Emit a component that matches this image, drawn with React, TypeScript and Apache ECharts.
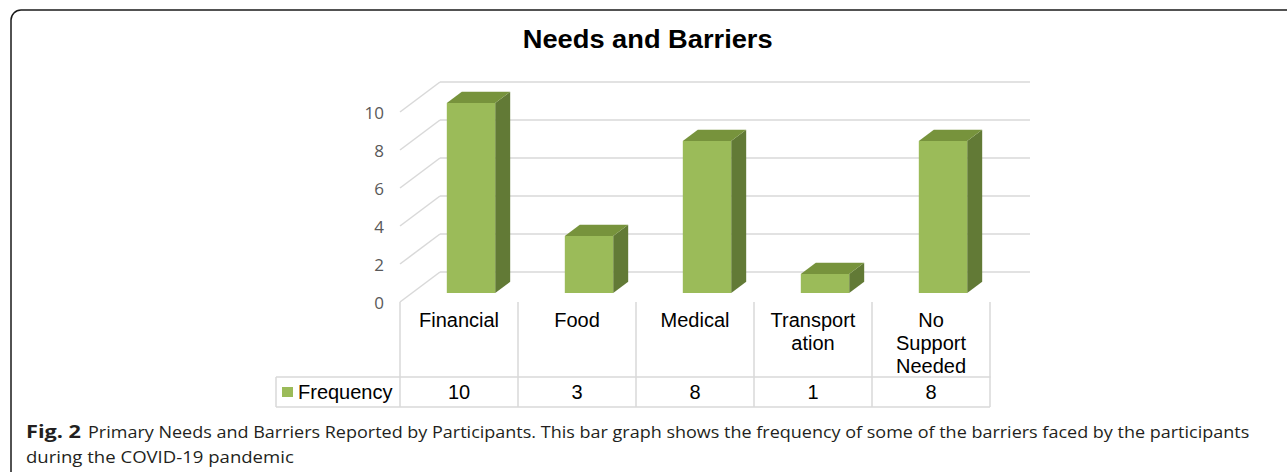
import React, { useEffect, useRef } from "react";
import * as echarts from "echarts";

// ---- data ----
const TITLE = "Needs and Barriers";
const CATEGORIES = ["Financial", "Food", "Medical", "Transport\nation", "No\nSupport\nNeeded"];
const FREQUENCY = [10, 3, 8, 1, 8];
const SERIES_NAME = "Frequency";
const Y_TICKS = [0, 2, 4, 6, 8, 10];
const Y_MIN = 0;
const Y_MAX = 10;
const Y_INTERVAL = 2;
const CAPTION_LABEL = "Fig. 2";
const CAPTION_LINE1 =
  "Primary Needs and Barriers Reported by Participants. This bar graph shows the frequency of some of the barriers faced by the participants";
const CAPTION_LINE2 = "during the COVID-19 pandemic";

// ---- layout / style ----
const W = 1287;
const H = 472;
const GRID_LEFT = 400;
const GRID_TOP = 112;
const GRID_W = 590;
const GRID_H = 190;
const DX = 40; // wall depth
const DY = -30;
const BAR_POS = 0.3; // front face depth fraction
const BAR_DEPTH = 0.375; // bar thickness fraction
const BAR_RATIO = 0.41;
const GRID_COLOR = "#D9D9D9";
const FRONT = "#9BBB59";
const TOP = "#77933C";
const SIDE = "#627A36";
const ARIAL = "Liberation Sans";
const CAPTION_FONT = "Open Sans";
const CAPTION_SIZE = 17;

function fit(text: string, font: string, target: number): number {
  const c = document.createElement("canvas").getContext("2d");
  if (!c) return 1;
  c.font = font;
  const w = c.measureText(text).width;
  return w > 0 ? target / w : 1;
}

export default function App() {
  const ref = useRef<HTMLDivElement>(null);
  useEffect(() => {
    if (!ref.current) return;
    const chart = echarts.init(ref.current, undefined, { renderer: "svg" });
    const floorY = GRID_TOP + GRID_H;
    const tableRowY = floorY + 75;
    const tableBottom = floorY + 105;
    const legendCellLeft = 276;
    const lineStyle = { stroke: GRID_COLOR, lineWidth: 1.5 };

    const titleScale = fit(TITLE, `bold 26px "${ARIAL}"`, 250);
    const labelScale = fit(CAPTION_LABEL, `bold ${CAPTION_SIZE}px "${CAPTION_FONT}"`, 55);
    const l1Scale = fit(CAPTION_LINE1, `${CAPTION_SIZE}px "${CAPTION_FONT}"`, 1162);
    const l2Scale = fit(CAPTION_LINE2, `${CAPTION_SIZE}px "${CAPTION_FONT}"`, 268);

    const captionText = (text: string, x: number, y: number, scaleX: number, bold: boolean) => ({
      type: "text",
      x,
      y,
      scaleX,
      style: {
        text,
        fontSize: CAPTION_SIZE,
        fontWeight: bold ? "bold" : "normal",
        fontFamily: CAPTION_FONT,
        fill: "#231F20",
        align: "left",
        verticalAlign: "middle",
      },
    });

    const option: any = {
      animation: false,
      backgroundColor: "#ffffff",
      grid: { left: GRID_LEFT, top: GRID_TOP, width: GRID_W, height: GRID_H },
      legend: {
        data: [SERIES_NAME],
        left: 282,
        top: 382,
        padding: 0,
        itemWidth: 11,
        itemHeight: 10,
        icon: "rect",
        selectedMode: false,
        textStyle: { fontSize: 20, color: "#000", fontFamily: ARIAL },
      },
      xAxis: [
        {
          type: "category",
          data: CATEGORIES,
          position: "bottom",
          axisLine: { show: false },
          axisTick: {
            show: true,
            length: 105,
            interval: 0,
            lineStyle: { color: GRID_COLOR, width: 1.5 },
          },
          axisLabel: {
            interval: 0,
            margin: 6,
            fontSize: 20,
            lineHeight: 23,
            color: "#000",
            fontFamily: ARIAL,
          },
          splitLine: { show: false },
        },
        {
          type: "category",
          data: CATEGORIES,
          position: "bottom",
          offset: 75,
          axisLine: { show: true, lineStyle: { color: GRID_COLOR, width: 1.5 } },
          axisTick: { show: false },
          axisLabel: {
            interval: 0,
            margin: 3,
            fontSize: 20,
            lineHeight: 23,
            color: "#000",
            fontFamily: ARIAL,
            formatter: (_v: string, i: number) => String(FREQUENCY[i]),
          },
          splitLine: { show: false },
        },
      ],
      yAxis: {
        type: "value",
        min: Y_MIN,
        max: Y_MAX,
        interval: Y_INTERVAL,
        axisLine: { show: false },
        axisTick: { show: false },
        splitLine: { show: false },
        axisLabel: { margin: 16, fontSize: 17, color: "#595959", fontFamily: CAPTION_FONT },
      },
      series: [
        {
          type: "custom",
          name: "wall",
          silent: true,
          clip: false,
          z: 1,
          data: Y_TICKS.map((v) => [0, v]),
          encode: { x: 0, y: 1 },
          renderItem: (params: any, api: any) => {
            const cs = params.coordSys;
            const p = api.coord([0, api.value(1)]);
            const y = p[1];
            return {
              type: "group",
              children: [
                { type: "line", shape: { x1: cs.x, y1: y, x2: cs.x + DX, y2: y + DY }, style: lineStyle },
                {
                  type: "line",
                  shape: { x1: cs.x + DX, y1: y + DY, x2: cs.x + cs.width + DX, y2: y + DY },
                  style: lineStyle,
                },
              ],
            };
          },
        },
        {
          type: "custom",
          name: SERIES_NAME,
          clip: false,
          z: 2,
          itemStyle: { color: FRONT },
          data: FREQUENCY.map((v, i) => [i, v]),
          encode: { x: 0, y: 1 },
          renderItem: (_params: any, api: any) => {
            const idx = api.value(0);
            const v = api.value(1);
            const base = api.coord([idx, 0]);
            const top = api.coord([idx, v]);
            const bw = api.size([1, 0])[0];
            const fw = bw * BAR_RATIO;
            const cx = base[0] + DX * BAR_POS;
            const oy = DY * BAR_POS;
            const x0 = cx - fw / 2;
            const x1 = cx + fw / 2;
            const yb = base[1] + oy;
            const yt = top[1] + oy;
            const ddx = DX * BAR_DEPTH;
            const ddy = DY * BAR_DEPTH;
            return {
              type: "group",
              children: [
                {
                  type: "polygon",
                  shape: { points: [[x1, yb], [x1 + ddx, yb + ddy], [x1 + ddx, yt + ddy], [x1, yt]] },
                  style: { fill: SIDE },
                },
                {
                  type: "polygon",
                  shape: { points: [[x0, yt], [x0 + ddx, yt + ddy], [x1 + ddx, yt + ddy], [x1, yt]] },
                  style: { fill: TOP },
                },
                {
                  type: "rect",
                  shape: { x: x0, y: yt, width: fw, height: yb - yt },
                  style: { fill: FRONT },
                },
              ],
            };
          },
        },
      ],
      graphic: [
        {
          type: "rect",
          silent: true,
          shape: { x: 11, y: 10, width: W + 100, height: H + 100, r: 10 },
          style: { fill: "none", stroke: "#1a1a1a", lineWidth: 1.5 },
        },
        {
          type: "text",
          x: 647.7,
          y: 39,
          scaleX: titleScale,
          style: {
            text: TITLE,
            fontSize: 26,
            fontWeight: "bold",
            fontFamily: ARIAL,
            fill: "#000",
            align: "center",
            verticalAlign: "middle",
          },
        },
        // data table borders
        {
          type: "line",
          shape: { x1: legendCellLeft, y1: tableRowY, x2: GRID_LEFT, y2: tableRowY },
          style: lineStyle,
        },
        {
          type: "line",
          shape: { x1: legendCellLeft, y1: tableBottom, x2: GRID_LEFT + GRID_W, y2: tableBottom },
          style: lineStyle,
        },
        {
          type: "line",
          shape: { x1: legendCellLeft, y1: tableRowY, x2: legendCellLeft, y2: tableBottom },
          style: lineStyle,
        },
        // caption
        captionText(CAPTION_LABEL, 26, 431, labelScale, true),
        captionText(CAPTION_LINE1, 88, 431, l1Scale, false),
        captionText(CAPTION_LINE2, 26, 456, l2Scale, false),
      ],
    };
    chart.setOption(option);
    return () => chart.dispose();
  }, []);
  return (
    <div
      ref={ref}
      style={{ position: "fixed", left: 0, top: 0, width: W, height: H, background: "#fff" }}
    />
  );
}
